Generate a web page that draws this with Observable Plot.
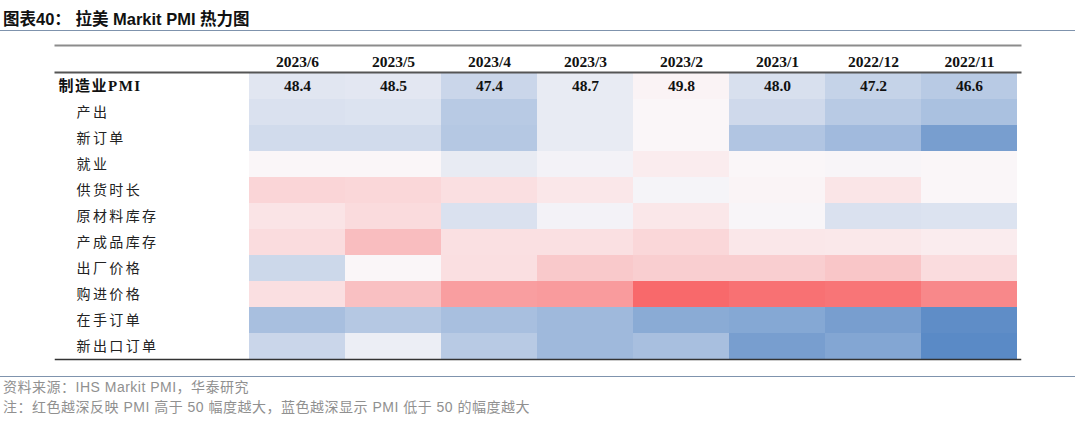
<!DOCTYPE html>
<html>
<head>
<meta charset="utf-8">
<script src="https://cdn.jsdelivr.net/npm/d3@7"></script>
<script src="https://cdn.jsdelivr.net/npm/@observablehq/plot@0.6"></script>
<style>
  html, body { margin: 0; padding: 0; background: #fff; }
  #title {
    width: 1075px; height: 31px; box-sizing: border-box;
    border-bottom: 1.5px solid #7f93ad;
    font-family: "Liberation Sans", "Noto Sans CJK SC", sans-serif;
    font-weight: bold; font-size: 16.5px; color: #111;
    padding: 10px 0 0 3px; line-height: 18px;
  }
  #chart { height: 337px; }
  #chart svg [aria-label="y-axis tick label"] text { letter-spacing: 2.4px; }
  #chart svg [aria-label="y-axis tick label"][font-weight="bold"] text { letter-spacing: 1.5px; }
  #foot {
    width: 1075px; margin-top: 8px; box-sizing: border-box;
    border-top: 1.5px solid #7f93ad;
    font-family: "Liberation Sans", "Noto Sans CJK SC", sans-serif;
    font-size: 14px; color: #909090; line-height: 20px; padding-left: 3px;
    letter-spacing: 0.5px;
  }
</style>
</head>
<body>
<div id="title">图表40：&nbsp;拉美 Markit PMI 热力图</div>
<div id="chart"></div>
<div id="foot">
  <div>资料来源：IHS Markit PMI，华泰研究</div>
  <div>注：红色越深反映 PMI 高于 50 幅度越大，蓝色越深显示 PMI 低于 50 的幅度越大</div>
</div>
<script>
const months = ["2023/6", "2023/5", "2023/4", "2023/3", "2023/2", "2023/1", "2022/12", "2022/11"];
const rowNames = ["制造业PMI", "产出", "新订单", "就业", "供货时长", "原材料库存", "产成品库存", "出厂价格", "购进价格", "在手订单", "新出口订单"];

const pmi          = [48.4, 48.5, 47.4, 48.7, 49.8, 48.0, 47.2, 46.6];
const output       = [48.1, 48.2, 46.6, 48.7, 49.6, 47.6, 46.6, 46.0];
const newOrders    = [47.7, 47.7, 46.5, 48.7, 49.6, 46.3, 45.6, 43.8];
const employment   = [49.6, 49.6, 48.7, 49.2, 50.3, 49.6, 49.4, 49.6];
const delivery     = [52.0, 51.9, 51.3, 50.7, 49.3, 49.7, 50.8, 49.6];
const rawStocks    = [50.9, 51.6, 48.1, 49.2, 50.7, 49.4, 48.1, 48.2];
const finStocks    = [51.5, 53.8, 51.2, 51.2, 51.9, 50.7, 50.6, 50.3];
const outputPrices = [47.5, 49.6, 51.3, 52.9, 52.5, 52.5, 53.1, 51.5];
const inputPrices  = [51.3, 53.6, 56.1, 56.3, 60.0, 59.4, 59.1, 57.7];
const backlog      = [45.9, 46.5, 45.9, 45.5, 44.6, 44.4, 43.8, 42.7];
const exportOrders = [47.4, 48.9, 46.6, 45.5, 45.9, 43.8, 44.3, 42.5];

const series = [pmi, output, newOrders, employment, delivery, rawStocks, finStocks, outputPrices, inputPrices, backlog, exportOrders];
const table = [];
rowNames.forEach((r, i) => months.forEach((m, j) => table.push({row: r, month: m, value: series[i][j]})));
const headline = table.filter(d => d.row === rowNames[0]);

const serif = "'Liberation Serif', 'Noto Sans CJK SC', serif";
const plot = Plot.plot({
  width: 1080,
  height: 337,
  marginLeft: 245,
  marginRight: 60,
  marginTop: 41,
  marginBottom: 9,
  style: {fontFamily: serif, background: "#fff", color: "#111"},
  x: {type: "band", domain: months, padding: 0, axis: null},
  y: {type: "band", domain: rowNames, padding: 0, axis: null},
  color: {type: "linear", domain: [42.5, 49.5, 60], range: ["#5A8AC6", "#FAF7F9", "#F8696B"], interpolate: d3.interpolateRgb, clamp: true},
  marks: [
    Plot.cell(table, {x: "month", y: "row", fill: "value", inset: 0}),
    Plot.text(headline, {x: "month", y: "row", text: d => d.value.toFixed(1), fontWeight: "bold", fontSize: 15.5, fontFamily: serif, fill: "#111"}),
    Plot.axisX({anchor: "top", tickSize: 0, tickPadding: 6, label: null, fontWeight: "bold", fontSize: 15.5, fontFamily: serif, fill: "#111"}),
    Plot.axisY([rowNames[0]], {anchor: "left", tickSize: 0, tickPadding: 187, textAnchor: "start", label: null, fontWeight: "bold", fontSize: 15, fontFamily: serif, fill: "#111"}),
    Plot.axisY(rowNames.slice(1), {anchor: "left", tickSize: 0, tickPadding: 169, textAnchor: "start", label: null, fontSize: 14, fontFamily: serif, fill: "#222"}),
    Plot.frame({anchor: "top", dy: -27, insetLeft: -190, stroke: "#8c8c8c", strokeWidth: 2}),
    Plot.frame({anchor: "top", insetLeft: -190, stroke: "#555", strokeWidth: 2}),
    Plot.frame({anchor: "bottom", insetLeft: -190, stroke: "#333", strokeWidth: 1.5})
  ]
});
document.getElementById("chart").appendChild(plot);
</script>
</body>
</html>
